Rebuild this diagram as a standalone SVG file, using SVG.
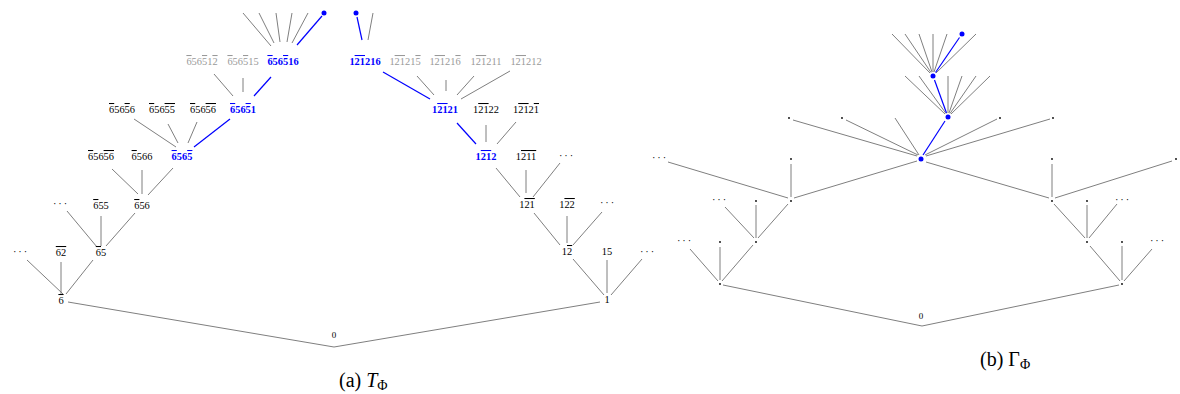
<svg xmlns="http://www.w3.org/2000/svg" width="1180" height="394" viewBox="0 0 1180 394">
<style>
.l{font-family:"Liberation Serif","DejaVu Serif",serif;font-size:10.4px;text-anchor:middle;fill:#000}
.g{fill:#999}
.b{fill:#0000ff;font-weight:bold}
.o{text-decoration:overline}
.d{letter-spacing:1.8px}
.cap{font-family:"Liberation Serif","DejaVu Serif",serif;font-size:20px;fill:#000}
.e{stroke:#7f7f7f;stroke-width:1;fill:none}
.be{stroke:#0000ff;stroke-width:1.2;fill:none}
.bd{fill:#0000ff}
.sd{fill:#000}
</style>
<rect width="1180" height="394" fill="#fff"/>
<g id="connectors">
  <!-- (a) tree -->
  <g class="e">
    <line x1="68" y1="302" x2="334" y2="347"/>
    <line x1="600" y1="302" x2="334" y2="347"/>
    <line x1="63" y1="294" x2="27" y2="260"/>
    <line x1="61" y1="294" x2="61" y2="262"/>
    <line x1="66" y1="294" x2="93" y2="260"/>
    <line x1="97" y1="247" x2="67" y2="211"/>
    <line x1="101" y1="246" x2="101" y2="216"/>
    <line x1="106" y1="246" x2="135" y2="213"/>
    <line x1="138" y1="194" x2="112" y2="169"/>
    <line x1="142" y1="194" x2="142" y2="170"/>
    <line x1="148" y1="195" x2="173" y2="168"/>
    <line x1="176" y1="147" x2="134" y2="119"/>
    <line x1="178" y1="143" x2="168" y2="124"/>
    <line x1="188" y1="143" x2="197" y2="122"/>
    <line x1="233" y1="96" x2="214" y2="74"/>
    <line x1="243" y1="92" x2="243" y2="78"/>
    <line x1="271" y1="46" x2="243" y2="13"/>
    <line x1="274" y1="43" x2="259" y2="13"/>
    <line x1="280" y1="42" x2="276" y2="13"/>
    <line x1="287" y1="42" x2="292" y2="13"/>
    <line x1="292" y1="43" x2="308" y2="13"/>
    <line x1="604" y1="295" x2="573" y2="259"/>
    <line x1="607" y1="293" x2="607" y2="260"/>
    <line x1="611" y1="295" x2="642" y2="259"/>
    <line x1="560" y1="245" x2="534" y2="213"/>
    <line x1="567" y1="243" x2="567" y2="216"/>
    <line x1="573" y1="245" x2="602" y2="212"/>
    <line x1="520" y1="197" x2="496" y2="168"/>
    <line x1="526" y1="193" x2="526" y2="170"/>
    <line x1="533" y1="197" x2="560" y2="163"/>
    <line x1="486" y1="142" x2="486" y2="125"/>
    <line x1="497" y1="144" x2="516" y2="122"/>
    <line x1="434" y1="95" x2="417" y2="76"/>
    <line x1="446" y1="91" x2="446" y2="80"/>
    <line x1="457" y1="95" x2="474" y2="76"/>
    <line x1="461" y1="99" x2="510" y2="71"/>
    <line x1="368" y1="40" x2="373" y2="13"/>
  </g>
  <g class="be">
    <line x1="194" y1="147" x2="230" y2="119"/>
    <line x1="254" y1="96" x2="271" y2="77"/>
    <line x1="297" y1="45" x2="322" y2="16"/>
    <line x1="476" y1="144" x2="457" y2="123"/>
    <line x1="430" y1="99" x2="383" y2="72"/>
    <line x1="362" y1="40" x2="357" y2="17"/>
  </g>
  <!-- (b) graph -->
  <g class="e">
    <line x1="723" y1="285" x2="922" y2="326"/>
    <line x1="1119" y1="285" x2="922" y2="326"/>
    <line x1="718" y1="281" x2="690" y2="249"/>
    <line x1="720" y1="280" x2="720" y2="247"/>
    <line x1="722" y1="281" x2="753" y2="245"/>
    <line x1="754" y1="238" x2="725" y2="207"/>
    <line x1="756" y1="238" x2="756" y2="205"/>
    <line x1="758" y1="238" x2="788" y2="204"/>
    <line x1="788" y1="198" x2="668" y2="162"/>
    <line x1="791" y1="197" x2="791" y2="164"/>
    <line x1="794" y1="198" x2="917" y2="161"/>
    <line x1="1120" y1="281" x2="1090" y2="246"/>
    <line x1="1122" y1="280" x2="1122" y2="246"/>
    <line x1="1124" y1="281" x2="1152" y2="249"/>
    <line x1="1085" y1="238" x2="1054" y2="204"/>
    <line x1="1087" y1="238" x2="1087" y2="205"/>
    <line x1="1089" y1="238" x2="1117" y2="204"/>
    <line x1="1049" y1="198" x2="926" y2="162"/>
    <line x1="1052" y1="197" x2="1052" y2="164"/>
    <line x1="1055" y1="198" x2="1172" y2="161"/>
    <line x1="917" y1="156" x2="793" y2="120"/>
    <line x1="918" y1="155" x2="846" y2="120"/>
    <line x1="919" y1="155" x2="895" y2="118"/>
    <line x1="925" y1="155" x2="997" y2="119"/>
    <line x1="926" y1="156" x2="1050" y2="119"/>
    <line x1="945" y1="114" x2="905" y2="76"/>
    <line x1="946" y1="113.5" x2="919" y2="76"/>
    <line x1="948" y1="113" x2="948" y2="76"/>
    <line x1="949" y1="113" x2="962" y2="76"/>
    <line x1="950" y1="113.5" x2="976" y2="76"/>
    <line x1="951" y1="114" x2="990" y2="76"/>
    <line x1="930" y1="73" x2="892" y2="34"/>
    <line x1="931" y1="72.5" x2="905" y2="34"/>
    <line x1="932" y1="72" x2="919" y2="34"/>
    <line x1="933" y1="72" x2="933" y2="34"/>
    <line x1="934" y1="72" x2="947" y2="34"/>
    <line x1="936" y1="73" x2="976" y2="34"/>
  </g>
  <g class="be">
    <line x1="923" y1="155" x2="945" y2="121"/>
    <line x1="946.5" y1="113" x2="934.5" y2="80"/>
    <line x1="935.5" y1="72.5" x2="959.5" y2="37.5"/>
  </g>
</g>

<!-- (a) T_Phi nodes -->
<g id="a-root"><text class="l" x="334" y="338" style="font-size:9px">0</text></g>
<g id="a-6b"><text class="l" x="61" y="304"><tspan class="o">6</tspan></text></g>
<g id="a-6b-dots"><text class="l d" x="21" y="255">···</text></g>
<g id="a-62"><text class="l" x="61" y="256"><tspan class="o">62</tspan></text></g>
<g id="a-65"><text class="l" x="101" y="256"><tspan class="o">6</tspan>5</text></g>
<g id="a-65-dots"><text class="l d" x="61" y="207">···</text></g>
<g id="a-655"><text class="l" x="101" y="209"><tspan class="o">6</tspan>55</text></g>
<g id="a-656"><text class="l" x="142" y="209"><tspan class="o">6</tspan>56</text></g>
<g id="a-65656"><text class="l" x="101" y="160"><tspan class="o">6</tspan>56<tspan class="o">56</tspan></text></g>
<g id="a-6566"><text class="l" x="142" y="160"><tspan class="o">6</tspan>566</text></g>
<g id="a-6565"><text class="l b" x="182" y="160"><tspan class="o">6</tspan>56<tspan class="o">5</tspan></text></g>
<g id="a-65656b"><text class="l" x="122" y="113"><tspan class="o">6</tspan>56<tspan class="o">5</tspan>6</text></g>
<g id="a-65655"><text class="l" x="162" y="113"><tspan class="o">6</tspan>56<tspan class="o">55</tspan></text></g>
<g id="a-65656c"><text class="l" x="203" y="113"><tspan class="o">6</tspan>56<tspan class="o">56</tspan></text></g>
<g id="a-65651"><text class="l b" x="243" y="113"><tspan class="o">6</tspan>56<tspan class="o">5</tspan>1</text></g>
<g id="a-656512"><text class="l g" x="202" y="65"><tspan class="o">6</tspan>56<tspan class="o">5</tspan>1<tspan class="o">2</tspan></text></g>
<g id="a-656515"><text class="l g" x="243" y="65"><tspan class="o">6</tspan>56<tspan class="o">5</tspan>15</text></g>
<g id="a-656516"><text class="l b" x="283" y="65"><tspan class="o">6</tspan>56<tspan class="o">5</tspan>16</text></g>
<g id="a-656516-top"><circle class="bd" cx="324" cy="13" r="2.5"/></g>
<g id="a-1"><text class="l" x="607" y="303">1</text></g>
<g id="a-12"><text class="l" x="567" y="255">1<tspan class="o">2</tspan></text></g>
<g id="a-15"><text class="l" x="607" y="255">15</text></g>
<g id="a-1-dots"><text class="l d" x="648" y="255">···</text></g>
<g id="a-121"><text class="l" x="527" y="208">1<tspan class="o">21</tspan></text></g>
<g id="a-122"><text class="l" x="567" y="208">1<tspan class="o">22</tspan></text></g>
<g id="a-12-dots"><text class="l d" x="608" y="206">···</text></g>
<g id="a-1212"><text class="l b" x="486" y="160">1<tspan class="o">21</tspan>2</text></g>
<g id="a-1211"><text class="l" x="526" y="160">1<tspan class="o">211</tspan></text></g>
<g id="a-121-dots"><text class="l d" x="567" y="159">···</text></g>
<g id="a-12121"><text class="l b" x="445" y="113">1<tspan class="o">21</tspan>21</text></g>
<g id="a-12122"><text class="l" x="486" y="113">1<tspan class="o">21</tspan>22</text></g>
<g id="a-12121b"><text class="l" x="526" y="113">1<tspan class="o">21</tspan>2<tspan class="o">1</tspan></text></g>
<g id="a-121216"><text class="l b" x="365" y="65">1<tspan class="o">21</tspan>216</text></g>
<g id="a-121215"><text class="l g" x="405" y="65">1<tspan class="o">21</tspan>21<tspan class="o">5</tspan></text></g>
<g id="a-121216b"><text class="l g" x="445" y="65">1<tspan class="o">21</tspan>21<tspan class="o">6</tspan></text></g>
<g id="a-121211"><text class="l g" x="486" y="65">1<tspan class="o">21</tspan>211</text></g>
<g id="a-121212"><text class="l g" x="526" y="65">1<tspan class="o">21</tspan>212</text></g>
<g id="a-121216-top"><circle class="bd" cx="356" cy="13" r="2.5"/></g>

<!-- (b) Gamma_Phi nodes -->
<g id="b-root"><text class="l" x="921" y="319" style="font-size:9px">0</text></g>
<g id="b-A"><circle class="sd" cx="720" cy="284" r="0.9"/></g>
<g id="b-A-dots"><text class="l d" x="685" y="244">···</text></g>
<g id="b-A2"><circle class="sd" cx="720" cy="242" r="0.9"/></g>
<g id="b-B"><circle class="sd" cx="756" cy="242" r="0.9"/></g>
<g id="b-B-dots"><text class="l d" x="720" y="203">···</text></g>
<g id="b-B2"><circle class="sd" cx="756" cy="201" r="0.9"/></g>
<g id="b-C"><circle class="sd" cx="791" cy="201" r="0.9"/></g>
<g id="b-C-dots"><text class="l d" x="660" y="161">···</text></g>
<g id="b-C2"><circle class="sd" cx="791" cy="159" r="0.9"/></g>
<g id="b-D"><circle class="sd" cx="1122" cy="284" r="0.9"/></g>
<g id="b-D2"><circle class="sd" cx="1122" cy="242" r="0.9"/></g>
<g id="b-D-dots"><text class="l d" x="1158" y="244">···</text></g>
<g id="b-E"><circle class="sd" cx="1087" cy="242" r="0.9"/></g>
<g id="b-E2"><circle class="sd" cx="1087" cy="201" r="0.9"/></g>
<g id="b-E-dots"><text class="l d" x="1123" y="203">···</text></g>
<g id="b-F"><circle class="sd" cx="1052" cy="201" r="0.9"/></g>
<g id="b-F2"><circle class="sd" cx="1052" cy="159" r="0.9"/></g>
<g id="b-F3"><circle class="sd" cx="1176" cy="159" r="0.9"/></g>
<g id="b-G"><circle class="bd" cx="921" cy="159" r="2.5"/></g>
<g id="b-G1"><circle class="sd" cx="789" cy="118" r="0.9"/></g>
<g id="b-G2"><circle class="sd" cx="842" cy="118" r="0.9"/></g>
<g id="b-G4"><circle class="sd" cx="1000" cy="118" r="0.9"/></g>
<g id="b-G5"><circle class="sd" cx="1053" cy="118" r="0.9"/></g>
<g id="b-H"><circle class="bd" cx="948" cy="117" r="2.5"/></g>
<g id="b-I"><circle class="bd" cx="933" cy="76" r="2.5"/></g>
<g id="b-J"><circle class="bd" cx="962" cy="34" r="2.5"/></g>

<!-- captions -->
<g id="caption-a"><text class="cap" x="339" y="387">(a) <tspan font-style="italic">T</tspan><tspan font-size="14" dy="3">Φ</tspan></text></g>
<g id="caption-b"><text class="cap" x="980" y="366">(b) Γ<tspan font-size="14" dy="3">Φ</tspan></text></g>
</svg>
